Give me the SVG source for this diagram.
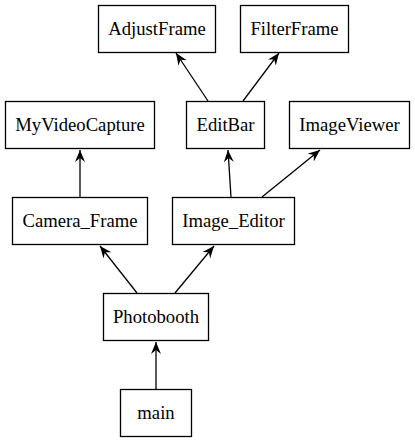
<svg xmlns="http://www.w3.org/2000/svg" width="415" height="443" viewBox="0 0 415 443">
<style>
.n rect{fill:#fff;stroke:#000;stroke-width:1.3}
.n text{font-family:'Liberation Serif','Times New Roman',Times,serif;font-size:18.67px;text-anchor:middle;fill:#000}
.e line{stroke:#000;stroke-width:1.3;marker-end:url(#v)}
</style>
<defs>
<marker id="v" markerUnits="userSpaceOnUse" markerWidth="14" markerHeight="12" refX="12" refY="5" orient="auto">
<path d="M0,0 L12,5 L0,10 L4,5 z" fill="#000"/>
</marker>
</defs>
<rect width="415" height="443" fill="#fff"/>
<g id="edges" class="e">
<line x1="208" y1="101" x2="176" y2="53"/>
<line x1="243" y1="101" x2="279" y2="53"/>
<line x1="80" y1="197" x2="80" y2="150"/>
<line x1="231" y1="197" x2="228" y2="150"/>
<line x1="262" y1="197" x2="320" y2="150"/>
<line x1="137" y1="293" x2="100" y2="246"/>
<line x1="175" y1="293" x2="214" y2="246"/>
<line x1="156" y1="389" x2="156" y2="342"/>
</g>
<g id="AdjustFrame" class="n"><rect x="98.5" y="5.5" width="117" height="47"/><text x="157" y="34.5">AdjustFrame</text></g>
<g id="FilterFrame" class="n"><rect x="240.5" y="5.5" width="108" height="47"/><text x="294.5" y="34.5">FilterFrame</text></g>
<g id="MyVideoCapture" class="n"><rect x="5.5" y="101.5" width="149" height="47"/><text x="80" y="130.5">MyVideoCapture</text></g>
<g id="EditBar" class="n"><rect x="186.5" y="101.5" width="78" height="47"/><text x="225.5" y="130.5">EditBar</text></g>
<g id="ImageViewer" class="n"><rect x="289.5" y="101.5" width="120" height="47"/><text x="349.5" y="130.5">ImageViewer</text></g>
<g id="Camera_Frame" class="n"><rect x="12.5" y="197.5" width="135" height="47"/><text x="80" y="226.5">Camera_Frame</text></g>
<g id="Image_Editor" class="n"><rect x="172.5" y="197.5" width="122" height="47"/><text x="233.5" y="226.5">Image_Editor</text></g>
<g id="Photobooth" class="n"><rect x="103.5" y="293.5" width="105" height="47"/><text x="156" y="322.5">Photobooth</text></g>
<g id="main" class="n"><rect x="120.5" y="389.5" width="71" height="47"/><text x="156" y="418.5">main</text></g>
</svg>
